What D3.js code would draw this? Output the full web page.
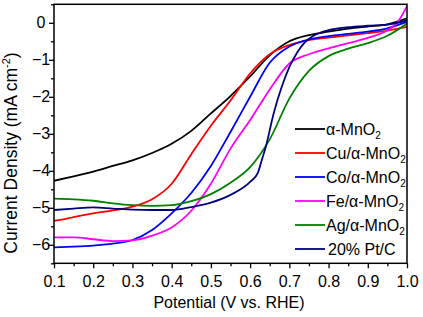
<!DOCTYPE html>
<html><head><meta charset="utf-8">
<script src="https://cdn.jsdelivr.net/npm/d3@7"></script>
<style>body{margin:0;background:#fff}svg{display:block;font-family:"Liberation Sans",Arial,sans-serif}</style>
</head><body>
<svg id="c" width="423" height="317"></svg>
<script>
// Data
const seriesNames = ["α-MnO", "Cu/α-MnO", "Co/α-MnO", "Fe/α-MnO", "Ag/α-MnO", "20% Pt/C"];
const seriesSub = ["2", "2", "2", "2", "2", ""];
const seriesColors = ["#000000", "#ff0000", "#0000ff", "#ff00ff", "#008000", "#000080"];

const vMn = [0.1,0.15,0.2,0.25,0.3,0.35,0.4,0.45,0.5,0.55,0.6,0.65,0.7,0.75,0.8,0.85,0.9,0.95,1.0];
const jMn = [-4.27,-4.15,-4.02,-3.87,-3.72,-3.52,-3.27,-2.92,-2.45,-1.98,-1.45,-0.88,-0.5,-0.33,-0.24,-0.16,-0.1,-0.04,0.12];

const vCu = [0.1,0.12,0.15,0.2,0.25,0.3,0.35,0.4,0.45,0.5,0.55,0.6,0.65,0.7,0.75,0.8,0.85,0.9,0.95,1.0];
const jCu = [-5.35,-5.32,-5.25,-5.15,-5.07,-4.97,-4.77,-4.35,-3.55,-2.78,-2.1,-1.37,-0.85,-0.6,-0.47,-0.4,-0.34,-0.28,-0.21,-0.11];

const vCo = [0.1,0.15,0.2,0.25,0.3,0.35,0.4,0.45,0.5,0.55,0.6,0.65,0.7,0.75,0.8,0.85,0.9,0.95,1.0];
const jCo = [-6.07,-6.05,-6.02,-5.97,-5.87,-5.6,-5.15,-4.6,-3.87,-2.95,-2.0,-1.08,-0.64,-0.45,-0.36,-0.3,-0.24,-0.15,0.03];

const vFe = [0.1,0.15,0.2,0.25,0.3,0.35,0.4,0.45,0.5,0.55,0.6,0.65,0.7,0.75,0.8,0.85,0.9,0.95,0.975,1.0];
const jFe = [-5.8,-5.8,-5.85,-5.9,-5.88,-5.75,-5.53,-5.08,-4.35,-3.4,-2.63,-1.8,-1.1,-0.85,-0.69,-0.55,-0.41,-0.2,0.0,0.45];

const vAg = [0.1,0.15,0.2,0.25,0.3,0.35,0.4,0.45,0.5,0.55,0.6,0.65,0.7,0.75,0.8,0.85,0.9,0.95,1.0];
const jAg = [-4.75,-4.77,-4.81,-4.88,-4.93,-4.95,-4.93,-4.82,-4.63,-4.32,-3.9,-3.15,-2.05,-1.3,-0.9,-0.7,-0.55,-0.35,-0.02];

const vPt = [0.1,0.15,0.2,0.25,0.3,0.35,0.4,0.45,0.5,0.55,0.6,0.62,0.63,0.64,0.66,0.68,0.7,0.72,0.74,0.76,0.8,0.85,0.9,0.95,1.0];
const jPt = [-5.06,-5.02,-4.99,-5.02,-5.05,-5.06,-5.06,-4.98,-4.86,-4.65,-4.3,-4.05,-3.7,-3.35,-2.45,-1.75,-1.2,-0.8,-0.52,-0.36,-0.2,-0.12,-0.08,-0.05,0.07];

const xTicks = [0.1,0.2,0.3,0.4,0.5,0.6,0.7,0.8,0.9,1.0];
const yTicks = [-6,-5,-4,-3,-2,-1,0];

const seriesV = [vMn, vCu, vCo, vFe, vAg, vPt];
const seriesJ = [jMn, jCu, jCo, jFe, jAg, jPt];

// Layout
const L = 54, R = 407, T = 4.3, B = 263.3;
const svg = d3.select("#c");
const x = d3.scaleLinear().domain([0.1, 1.0]).range([L, R]);
const y = d3.scaleLinear().domain([-6.5, 0.5]).range([B, T]);

// curves
const line = d3.line().x(d => x(d[0])).y(d => y(d[1])).curve(d3.curveMonotoneX);
svg.append("clipPath").attr("id","cp").append("rect").attr("x",L).attr("y",T).attr("width",R-L).attr("height",B-T);
const g = svg.append("g").attr("clip-path","url(#cp)");
seriesV.forEach((vs, i) => {
  const pts = vs.map((v, k) => [v, seriesJ[i][k]]);
  g.append("path").attr("d", line(pts)).attr("fill","none")
    .attr("stroke", seriesColors[i]).attr("stroke-width", 1.8).attr("stroke-linejoin","round");
});

// axes
const xMinor = d3.range(0.15, 1.0, 0.1);
const yMinor = d3.range(-6.5, 0.6, 1);
const xAx = svg.append("g").attr("transform", `translate(0,${B})`)
  .call(d3.axisBottom(x).tickValues(xTicks).tickFormat(d3.format(".1f")).tickSize(5).tickPadding(7));
const xAxMin = svg.append("g").attr("transform", `translate(0,${B})`)
  .call(d3.axisBottom(x).tickValues(xMinor).tickFormat("").tickSize(3));
const yAx = svg.append("g").attr("transform", `translate(${L},0)`)
  .call(d3.axisLeft(y).tickValues(yTicks).tickFormat(d3.format("d")).tickSize(5));
const yAxMin = svg.append("g").attr("transform", `translate(${L},0)`)
  .call(d3.axisLeft(y).tickValues(yMinor).tickFormat("").tickSize(3));
[xAx, xAxMin, yAx, yAxMin].forEach(a => {
  a.select(".domain").remove();
  a.selectAll("line").attr("stroke","#000").attr("stroke-width",1.3);
  a.selectAll("text").attr("font-size",16).attr("fill","#000").attr("font-family","Liberation Sans, Arial, sans-serif");
});
yAx.selectAll("text").attr("text-anchor","middle").attr("x", 41 - L);
svg.append("rect").attr("x",L).attr("y",T).attr("width",R-L).attr("height",B-T)
  .attr("fill","none").attr("stroke","#000").attr("stroke-width",1.5);

// titles
svg.append("text").attr("x", 229).attr("y", 308).attr("text-anchor","middle")
  .attr("font-size",16).text("Potential (V vs. RHE)");
const yt = svg.append("text").attr("transform","translate(17,153) rotate(-90)").attr("text-anchor","middle").attr("font-size",17.5);
yt.append("tspan").text("Current Density (mA cm");
yt.append("tspan").attr("dy",-7).attr("font-size",11).text("-2");
yt.append("tspan").attr("dy",7).text(")");

// legend
const legY0 = 129, legDy = 24;
seriesNames.forEach((n, i) => {
  const yy = legY0 + i * legDy;
  svg.append("line").attr("x1",295).attr("x2",325).attr("y1",yy).attr("y2",yy)
    .attr("stroke",seriesColors[i]).attr("stroke-width",1.8);
  const t = svg.append("text").attr("x", i === 5 ? 328 : 326).attr("y", yy + 6).attr("font-size",16);
  t.append("tspan").text(n);
  if (seriesSub[i]) t.append("tspan").attr("dy",4).attr("font-size",10).text(seriesSub[i]);
});
</script>
</body></html>
